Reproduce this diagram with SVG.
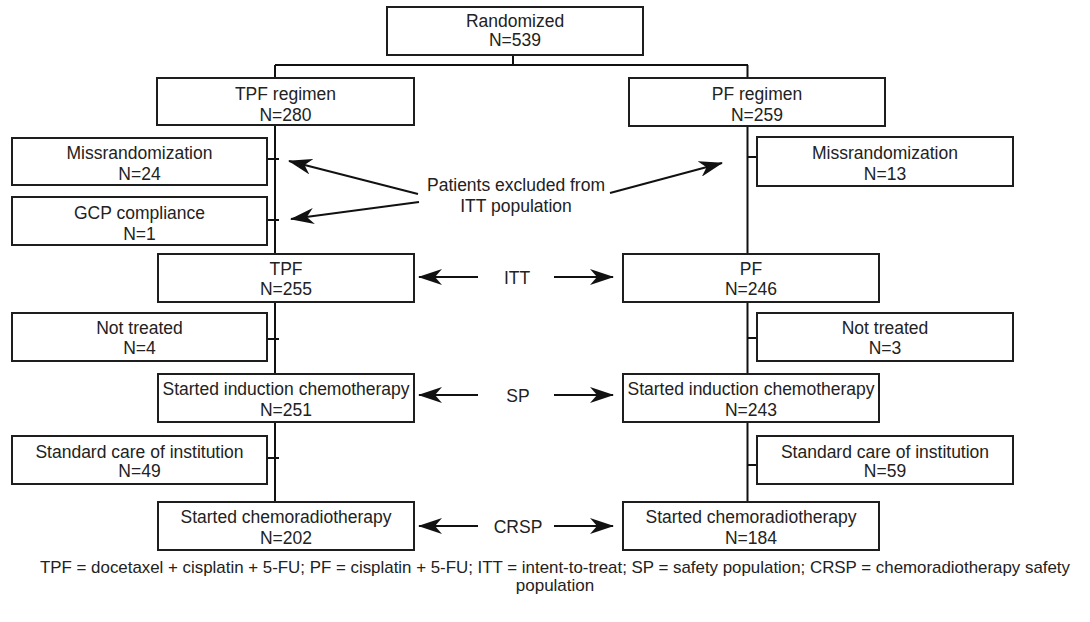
<svg xmlns="http://www.w3.org/2000/svg" width="1090" height="622" viewBox="0 0 1090 622">
<defs>
<style>
.box{fill:#fff;stroke:#1e1e1e;stroke-width:2}
.t{font-family:"Liberation Sans",Arial,sans-serif;font-size:17.5px;fill:#222;text-anchor:middle}
.fn{font-family:"Liberation Sans",Arial,sans-serif;font-size:17px;fill:#222;text-anchor:middle}
.ln{stroke:#111;stroke-width:2;fill:none}
.ar{stroke:#111;stroke-width:2;fill:none;marker-end:url(#ah)}
</style>
<marker id="ah" markerUnits="userSpaceOnUse" viewBox="0 0 24 16" refX="23" refY="8" markerWidth="24" markerHeight="16" orient="auto">
<path d="M0,0 L24,8 L0,16 L7,8 Z" fill="#111"/>
</marker>
</defs>
<rect width="1090" height="622" fill="#fff"/>
<g id="connectors">
<path class="ln" d="M513,55 V65 M275,65 H748 M275,65 V502 M747.5,65 V502"/>
<path class="ln" d="M267,159 H279 M267,220 H279 M267,339 H279 M267,458 H279"/>
<path class="ln" d="M747,157 H757 M747,338 H757 M747,465 H757"/>
<path class="ar" d="M418,194 L289,161"/>
<path class="ar" d="M419,202 L291,219"/>
<path class="ar" d="M610,193 L722,163"/>
<path class="ar" d="M478,277 H419"/>
<path class="ar" d="M554,277 H613"/>
<path class="ar" d="M478,395 H419"/>
<path class="ar" d="M554,395 H613"/>
<path class="ar" d="M478,526 H419"/>
<path class="ar" d="M554,526 H613"/>
</g>
<g id="randomized"><rect class="box" x="387" y="7" width="256" height="48"/><text class="t" x="515" y="27">Randomized</text><text class="t" x="515" y="46">N=539</text></g>
<g id="tpf-regimen"><rect class="box" x="157" y="78" width="257" height="47"/><text class="t" x="285.5" y="100">TPF regimen</text><text class="t" x="285.5" y="121">N=280</text></g>
<g id="pf-regimen"><rect class="box" x="629" y="78" width="256" height="48"/><text class="t" x="757" y="100">PF regimen</text><text class="t" x="757" y="121">N=259</text></g>
<g id="tpf-missrand"><rect class="box" x="12" y="138" width="255" height="47"/><text class="t" x="139.5" y="159">Missrandomization</text><text class="t" x="139.5" y="180">N=24</text></g>
<g id="tpf-gcp"><rect class="box" x="12" y="197" width="255" height="48"/><text class="t" x="139.5" y="219">GCP compliance</text><text class="t" x="139.5" y="240">N=1</text></g>
<g id="pf-missrand"><rect class="box" x="757" y="137" width="256" height="49"/><text class="t" x="885" y="159">Missrandomization</text><text class="t" x="885" y="180">N=13</text></g>
<g id="excluded-label"><text class="t" x="516" y="191">Patients excluded from</text><text class="t" x="516" y="212">ITT population</text></g>
<g id="tpf-itt"><rect class="box" x="158" y="254" width="256" height="48"/><text class="t" x="286" y="275">TPF</text><text class="t" x="286" y="295">N=255</text></g>
<g id="pf-itt"><rect class="box" x="623" y="254" width="256" height="48"/><text class="t" x="751" y="275">PF</text><text class="t" x="751" y="295">N=246</text></g>
<g id="itt-label"><text class="t" x="517" y="284">ITT</text></g>
<g id="tpf-nottreated"><rect class="box" x="12" y="313" width="255" height="48"/><text class="t" x="139.5" y="334">Not treated</text><text class="t" x="139.5" y="354">N=4</text></g>
<g id="pf-nottreated"><rect class="box" x="757" y="313" width="256" height="48"/><text class="t" x="885" y="334">Not treated</text><text class="t" x="885" y="354">N=3</text></g>
<g id="tpf-sp"><rect class="box" x="158" y="374" width="256" height="48"/><text class="t" x="286" y="395">Started induction chemotherapy</text><text class="t" x="286" y="416">N=251</text></g>
<g id="pf-sp"><rect class="box" x="623" y="374" width="256" height="48"/><text class="t" x="751" y="395">Started induction chemotherapy</text><text class="t" x="751" y="416">N=243</text></g>
<g id="sp-label"><text class="t" x="518" y="402">SP</text></g>
<g id="tpf-standard"><rect class="box" x="12" y="436" width="255" height="48"/><text class="t" x="139.5" y="458">Standard care of institution</text><text class="t" x="139.5" y="477">N=49</text></g>
<g id="pf-standard"><rect class="box" x="757" y="436" width="256" height="48"/><text class="t" x="885" y="458">Standard care of institution</text><text class="t" x="885" y="477">N=59</text></g>
<g id="tpf-crsp"><rect class="box" x="158" y="502" width="256" height="48"/><text class="t" x="286" y="523">Started chemoradiotherapy</text><text class="t" x="286" y="544">N=202</text></g>
<g id="pf-crsp"><rect class="box" x="623" y="502" width="256" height="48"/><text class="t" x="751" y="523">Started chemoradiotherapy</text><text class="t" x="751" y="544">N=184</text></g>
<g id="crsp-label"><text class="t" x="518" y="533">CRSP</text></g>
<g id="footnote"><text class="fn" x="555" y="573" textLength="1030" lengthAdjust="spacingAndGlyphs">TPF = docetaxel + cisplatin + 5-FU; PF = cisplatin + 5-FU; ITT = intent-to-treat; SP = safety population; CRSP = chemoradiotherapy safety</text><text class="fn" x="555" y="591">population</text></g>
</svg>
